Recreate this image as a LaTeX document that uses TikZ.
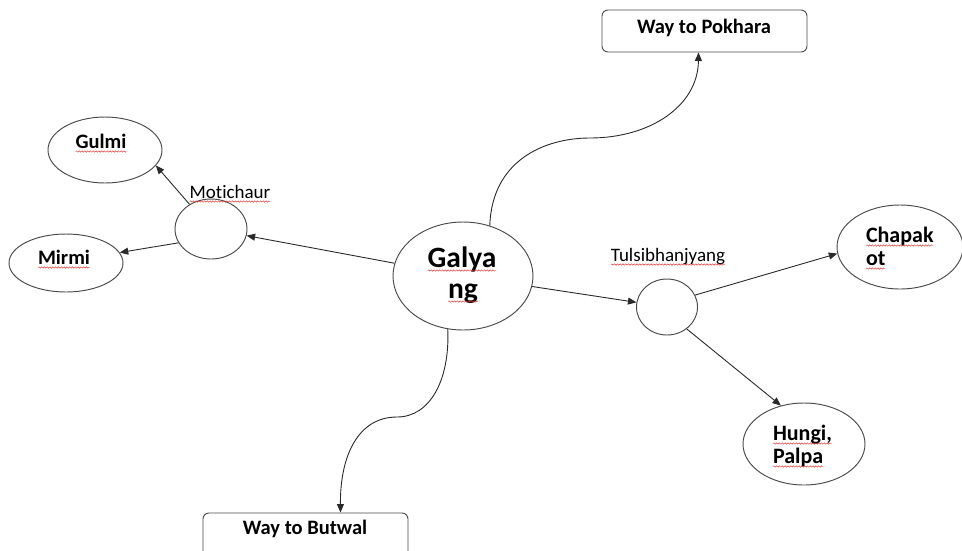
\documentclass[tikz,border=0pt]{standalone}
\usepackage{fontspec}
\setmainfont{Carlito}[Ligatures={NoCommon}]
\usetikzlibrary{arrows.meta,shapes.geometric,decorations.pathmorphing}

\definecolor{edgegray}{HTML}{2A2A2A}
\definecolor{rimgray}{HTML}{4A4A4A}
\definecolor{spellred}{HTML}{E03030}

\tikzset{
  oval/.style={ellipse, draw=rimgray, line width=0.95pt, inner sep=0pt},
  roundbox/.style={rectangle, rounded corners=6pt, draw=rimgray, line width=0.95pt, inner sep=0pt},
  txt/.style={inner sep=0pt, outer sep=0pt, text=black},
  place/.style={txt, font=\bfseries\fontsize{20.5}{24}\selectfont},
  bigplace/.style={txt, font=\bfseries\fontsize{22}{26}\selectfont},
  hub/.style={txt, font=\bfseries\fontsize{29.5}{34}\selectfont},
  side/.style={txt, font=\fontsize{19}{23}\selectfont},
  link/.style={draw=edgegray, line width=0.9pt, -{Triangle[length=8.5pt,width=7pt]}},
  squiggle/.style={draw=spellred, line width=0.45pt, decorate,
    decoration={snake, amplitude=0.7pt, segment length=2.8pt}},
}

% red wavy underline beneath a text node
\newcommand{\wavyline}[1]{%
  \draw[squiggle] ([yshift=-3.5pt]#1.base west) -- ([yshift=-3.5pt]#1.base east);}

\begin{document}
\begin{tikzpicture}[x=1pt,y=-1pt]
  \useasboundingbox (0,0) rectangle (962,550);
  \clip (0,0) rectangle (962,550);

  % shapes
  \node[oval, minimum width=140pt, minimum height=108pt] (galyang) at (463,276) {};
  \node[oval, minimum width=114pt, minimum height=66pt] (gulmi) at (105,150) {};
  \node[oval, minimum width=114pt, minimum height=58pt] (mirmi) at (66,263) {};
  \node[oval, minimum width=72pt, minimum height=60pt] (moti) at (211,229) {};
  \node[oval, minimum width=61pt, minimum height=56pt] (tulsi) at (667,307) {};
  \node[oval, minimum width=126pt, minimum height=84pt] (chapakot) at (900,247) {};
  \node[oval, minimum width=122pt, minimum height=82pt] (hungi) at (804,444) {};
  \node[roundbox, minimum width=205pt, minimum height=42pt] (pokhara) at (704.5,31) {};
  \node[roundbox, minimum width=205pt, minimum height=62pt] (butwal) at (305.5,544) {};

  % labels
  \node[hub, anchor=base] (tGalya) at (462,267) {Galya};
  \node[hub, anchor=base] (tNg) at (463,298) {ng};
  \node[place, anchor=base] (tGulmi) at (101,148) {Gulmi};
  \node[place, anchor=base] (tMirmi) at (64,264) {Mirmi};
  \node[side, anchor=base] (tMoti) at (230,198) {Motichaur};
  \node[side, anchor=base] (tTulsi) at (668,261) {Tulsibhanjyang};
  \node[bigplace, anchor=base west] (tChapak) at (866,242) {Chapak};
  \node[bigplace, anchor=base west] (tOt) at (866,265) {ot};
  \node[bigplace, anchor=base west] (tHungi) at (773,440) {Hungi,};
  \node[bigplace, anchor=base west] (tPalpa) at (773,463) {Palpa};
  \node[place, anchor=base] (tPokhara) at (704,33) {Way to Pokhara};
  \node[place, anchor=base] (tButwal) at (305,534) {Way to Butwal};

  \wavyline{tGalya}
  \wavyline{tNg}
  \wavyline{tGulmi}
  \wavyline{tMirmi}
  \wavyline{tMoti}
  \wavyline{tTulsi}
  \wavyline{tChapak}
  \wavyline{tOt}
  \wavyline{tHungi}
  \wavyline{tPalpa}

  % connectors
  \draw[link] (galyang) -- (moti);
  \draw[link] (moti.131) -- (gulmi.-17);
  \draw[link] (moti.203) -- (mirmi.11);
  \draw[link] (galyang) -- (tulsi);
  \draw[link] (tulsi.23) -- (chapakot.186);
  \draw[link] (tulsi.-48) -- (hungi.121);
  \draw[link] (galyang.62) .. controls (492,160) and (545,138) .. (590,138)
                           .. controls (650,138) and (698,106) .. ([xshift=-6pt]pokhara.south);
  \draw[link] (galyang.-106) .. controls (450,380) and (430,417) .. (397,417)
                             .. controls (358,417) and (340,456) .. ([xshift=35pt]butwal.north);
\end{tikzpicture}
\end{document}
